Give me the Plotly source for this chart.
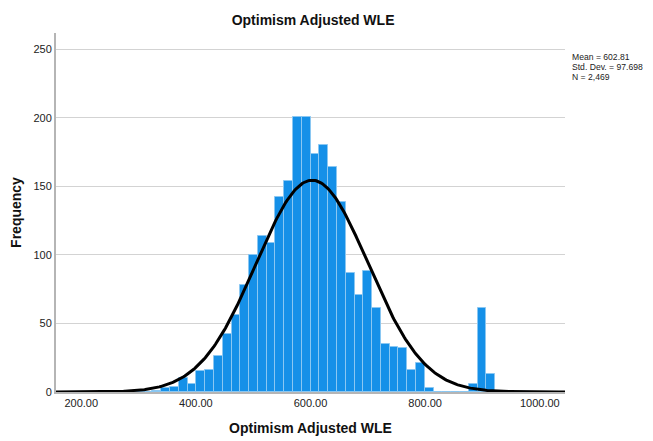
import numpy as np
import plotly.graph_objects as go

# histogram bins
bin_start = 262.9
bin_width = 15.33
counts = [1, 0, 0, 0, 1, 3, 4, 10, 6, 15, 16, 26, 42, 56, 78, 100, 114, 109,
          142, 154, 201, 201, 174, 180, 164, 139, 87, 71, 88, 61, 35, 33, 32,
          16, 21, 3, 0, 0, 0, 0, 6, 61, 13]
centers = [bin_start + bin_width * (i + 0.5) for i in range(len(counts))]

# summary stats shown in the chart
mean = 602.81
sd = 97.698
n = 2469
stats_lines = ["Mean = 602.81", "Std. Dev. = 97.698", "N = 2,469"]

x_ticks = [200, 400, 600, 800, 1000]
x_ticktext = ["200.00", "400.00", "600.00", "800.00", "1000.00"]
y_ticks = [0, 50, 100, 150, 200, 250]

x_range = [156, 1044]
y_range = [0, 262]

# fitted normal curve
xs = np.linspace(x_range[0], x_range[1], 400)
ys = n * bin_width * np.exp(-0.5 * ((xs - mean) / sd) ** 2) / (sd * np.sqrt(2 * np.pi))

fig = go.Figure()

fig.add_trace(go.Bar(
    x=centers,
    y=counts,
    width=bin_width,
    marker=dict(color='#1590e8', line=dict(color='#8ac7f2', width=1)),
    showlegend=False,
    hoverinfo='x+y'
))

fig.add_trace(go.Scatter(
    x=xs, y=ys,
    mode='lines',
    line=dict(color='black', width=3),
    showlegend=False,
    hoverinfo='skip'
))

# stats box, one line per annotation to keep the tight spacing
for i, line in enumerate(stats_lines):
    fig.add_annotation(
        xref='paper', yref='paper', x=1.01, y=0.933 - i * 0.028,
        xanchor='left', yanchor='middle', align='left', showarrow=False,
        text=line, font=dict(size=8.6, color='#222222', family='Liberation Sans')
    )

# the page body adds an 8px offset, so the figure is sized to fit the window
fig.update_layout(
    width=645, height=433,
    margin=dict(l=48, r=88, t=25, b=49, autoexpand=False),
    paper_bgcolor='white', plot_bgcolor='white',
    bargap=0,
    font=dict(family='Liberation Sans', color='#222222'),
    title=dict(text='<b>Optimism Adjusted WLE</b>', x=0.473, xanchor='center',
               xref='container', yref='container', automargin=False,
               y=0.972, yanchor='middle', font=dict(size=14, color='#111111')),
    xaxis=dict(
        range=x_range, tickvals=x_ticks, ticktext=x_ticktext, automargin=False,
        showgrid=False, zeroline=False, showline=True, linecolor='#b5b5b5',
        linewidth=2, ticks='', tickfont=dict(size=11, color='#222222'),
        ticklabelstandoff=0,
        title=dict(text='<b>Optimism Adjusted WLE</b>', standoff=15,
                   font=dict(size=14, color='#111111'))
    ),
    yaxis=dict(
        range=y_range, tickvals=y_ticks, automargin=False,
        showgrid=True, gridcolor='#d3d3d3', gridwidth=1, zeroline=False,
        showline=True, linecolor='#b5b5b5', linewidth=2, ticks='',
        tickfont=dict(size=11, color='#222222'),
        title=dict(text='<b>Frequency</b>', standoff=9,
                   font=dict(size=14, color='#111111'))
    )
)

fig.write_html("out.html")
